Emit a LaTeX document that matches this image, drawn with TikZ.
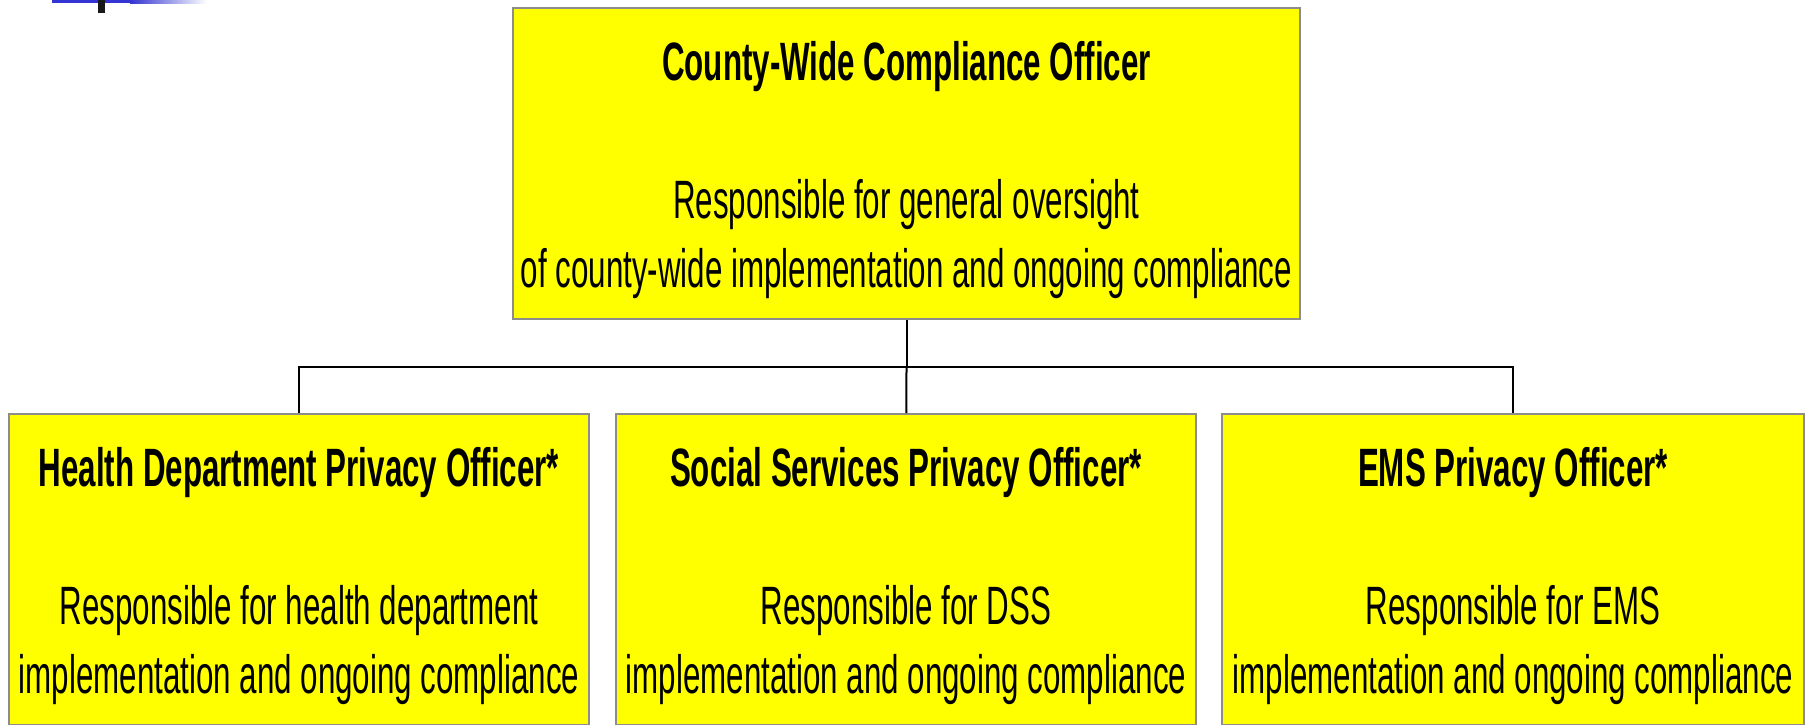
\documentclass[tikz,border=0pt]{standalone}
\usepackage{fontspec}
\setmainfont{Liberation Sans}[FakeStretch=0.58]
\definecolor{boxyellow}{HTML}{FFFF00}
\definecolor{boxgray}{HTML}{8C8C8C}
\definecolor{barblue}{HTML}{3434D2}
\newcommand{\topstrut}{\rule{0pt}{25.7pt}}
\begin{document}
\begin{tikzpicture}[x=0.5pt, y=-0.5pt,
    officer/.style={draw=boxgray, line width=1pt, fill=boxyellow, inner sep=0pt,
        minimum height=155.5pt, align=center,
        font=\fontsize{27}{34.5}\selectfont},
    link/.style={draw=black, line width=1pt}]
    \useasboundingbox (0,0) rectangle (1808,724);

    % Décor du coin gauche
    \fill[barblue] (52,0) rectangle (130,3);
    \shade[left color=barblue, right color=white] (130,0) rectangle (207,3);
    \fill[black!90] (98,0) rectangle (105,13);

    % Responsable général
    \node[officer, minimum width=393.5pt] (cwo) at (906.5,163.5)
        {\topstrut\textbf{County-Wide Compliance Officer}\\[34.5pt]Responsible for general oversight\\of county-wide implementation and ongoing compliance};

    % Responsables par service
    \node[officer, minimum width=290pt] (hdpo) at (299,569.5)
        {\topstrut\textbf{Health Department Privacy Officer*}\\[34.5pt]Responsible for health department\\implementation and ongoing compliance};
    \node[officer, minimum width=290pt] (sspo) at (906,569.5)
        {\topstrut\textbf{Social Services Privacy Officer*}\\[34.5pt]Responsible for DSS\\implementation and ongoing compliance};
    \node[officer, minimum width=291pt] (emspo) at (1513,569.5)
        {\topstrut\textbf{EMS Privacy Officer*}\\[34.5pt]Responsible for EMS\\implementation and ongoing compliance};

    % Liaisons hiérarchiques
    \coordinate (split) at (906.5,367);
    \draw[link] (cwo) -- (split);
    \draw[link] (split) -| (hdpo);
    \draw[link] (split) -- (sspo);
    \draw[link] (split) -| (emspo);

\end{tikzpicture}
\end{document}
